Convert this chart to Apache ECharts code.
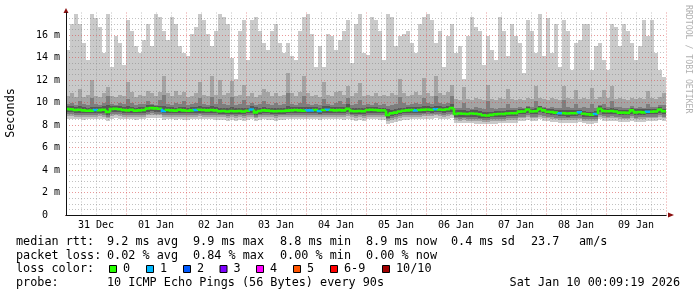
<!DOCTYPE html>
<html><head><meta charset="utf-8">
<script src="https://cdn.jsdelivr.net/npm/echarts@6/dist/echarts.min.js"></script>
<style>html,body{margin:0;padding:0;background:#fff}#c{width:697px;height:297px}</style>
</head><body><div id="c"></div>
<script>
// ---- axis / categories ----
const dayLabels = ['31 Dec','01 Jan','02 Jan','03 Jan','04 Jan','05 Jan','06 Jan','07 Jan','08 Jan','09 Jan'];
const axisStartHour = -24;   // hours relative to 01 Jan 00:00
const axisEndHour = 216;
const binHours = 1.6;        // each smoke bin = 96 minutes
const yMax = 18;             // milliseconds

// ---- smoke (sorted pings per bin, ms) ----
const ping10 = [14.7,17.0,17.9,17.0,15.3,13.8,17.9,17.5,16.7,14.4,17.9,13.2,15.9,15.3,13.3,17.3,16.4,15.0,14.4,15.6,17.0,15.0,17.9,17.6,16.4,15.6,17.6,17.0,15.0,14.4,14.1,16.1,16.7,17.9,17.3,16.1,15.0,16.4,
17.9,17.6,17.0,14.0,12.1,16.4,17.3,13.8,17.3,17.6,16.4,15.3,14.7,16.4,17.0,15.3,14.4,15.3,14.1,13.8,16.4,17.6,17.9,16.1,13.2,15.0,13.2,16.1,15.9,14.7,15.6,16.4,17.3,13.5,17.0,17.9,14.4,
14.2,17.6,17.3,16.4,13.8,17.9,17.6,15.0,15.9,16.1,16.4,15.3,14.4,17.0,17.6,17.9,17.3,15.3,16.4,13.2,15.9,17.0,14.4,15.0,12.1,15.9,17.6,16.7,16.4,13.3,15.9,14.7,13.8,17.6,16.4,14.1,17.0,15.9,
15.3,12.6,17.3,16.4,14.4,17.9,14.1,17.5,14.4,17.0,13.2,17.3,16.4,12.9,15.3,15.6,17.0,17.0,12.9,15.0,15.3,13.8,12.9,17.0,16.7,15.0,17.0,16.4,15.3,13.8,15.0,17.3,15.9,17.3,14.4,12.9,12.3];
const ping9 = [10.6,10.8,10.5,11.2,10.5,10.7,12.0,10.6,10.5,10.8,11.4,10.6,10.5,10.7,10.6,11.8,10.9,10.5,10.7,10.6,11.0,10.8,10.6,10.9,12.4,10.8,10.6,11.0,10.7,10.9,10.5,10.6,10.8,11.8,10.7,10.6,12.4,10.7,
12.0,10.7,10.8,11.9,10.6,10.7,11.6,10.6,10.8,10.5,10.7,11.2,10.9,10.6,10.8,10.6,10.7,12.6,10.8,10.6,10.9,12.4,10.8,10.6,10.7,10.5,11.8,10.7,10.6,10.9,11.0,10.7,11.5,10.6,10.8,11.7,10.6,
10.7,10.6,10.8,10.6,10.7,10.6,10.8,10.7,12.1,10.8,10.6,10.7,10.9,10.7,12.2,10.8,10.6,12.4,10.8,10.7,10.9,11.6,10.3,10.2,11.4,10.3,10.2,10.4,10.3,10.2,11.6,10.3,10.2,10.4,10.3,11.2,10.3,10.2,
10.3,10.2,10.4,10.3,11.5,10.4,10.3,10.2,10.4,10.3,10.2,11.5,10.4,10.3,11.1,10.3,10.4,10.3,11.3,10.3,10.5,11.1,10.4,11.5,10.3,10.4,10.3,10.2,10.4,10.3,10.4,10.3,11.0,10.4,10.3,10.5,10.8];
const ping8 = [9.9,10.0,9.8,10.1,9.9,9.8,10.4,9.9,9.8,10.0,10.6,9.9,9.8,10.0,9.9,10.3,10.0,9.8,9.9,9.9,10.1,9.9,9.8,10.2,10.7,9.9,9.8,10.0,9.9,10.1,9.8,9.9,10.0,10.4,9.9,9.8,10.5,9.9,
10.3,9.9,9.8,10.5,9.8,9.9,10.2,9.8,10.0,9.8,9.9,10.1,9.9,9.8,10.0,9.8,9.9,10.8,9.9,9.8,10.0,10.6,9.9,9.8,9.9,9.8,10.3,9.9,9.8,10.0,10.1,9.9,10.4,9.8,9.9,10.2,9.8,
9.9,9.8,10.0,9.8,9.9,9.7,9.8,9.9,10.5,10.0,9.8,9.9,10.0,9.9,10.4,10.0,9.9,10.6,10.0,9.9,10.0,10.6,9.5,9.5,10.0,9.5,9.4,9.6,9.5,9.4,10.1,9.5,9.4,9.5,9.5,9.9,9.5,9.5,
9.6,9.5,9.7,9.6,10.1,9.7,9.6,9.5,9.6,9.5,9.5,10.2,9.6,9.5,9.9,9.5,9.6,9.5,9.9,9.5,9.8,9.9,9.6,10.1,9.6,9.6,9.5,9.5,9.7,9.5,9.6,9.5,9.9,9.6,9.6,9.8,9.8];
const ping7 = [9.65,9.65,9.6,9.65,9.6,9.55,9.6,9.6,9.6,9.65,9.8,9.65,9.7,9.65,9.6,9.65,9.6,9.55,9.6,9.6,9.75,9.75,9.7,9.7,9.65,9.6,9.6,9.55,9.6,9.6,9.55,9.6,9.6,9.7,9.6,9.6,9.65,9.6,
9.55,9.55,9.5,9.6,9.5,9.55,9.5,9.55,9.65,9.6,9.55,9.6,9.55,9.55,9.5,9.55,9.55,9.65,9.6,9.6,9.6,9.6,9.6,9.6,9.6,9.55,9.65,9.65,9.6,9.6,9.6,9.6,9.9,9.55,9.5,9.55,9.5,
9.6,9.6,9.6,9.55,9.55,9.4,9.35,9.4,9.5,9.55,9.6,9.6,9.6,9.6,9.65,9.65,9.6,9.7,9.65,9.6,9.65,9.9,9.3,9.3,9.3,9.25,9.3,9.3,9.25,9.2,9.15,9.2,9.25,9.25,9.25,9.3,9.3,9.3,
9.45,9.45,9.6,9.45,9.5,9.7,9.55,9.45,9.4,9.35,9.3,9.3,9.3,9.3,9.3,9.35,9.25,9.2,9.2,9.25,9.7,9.5,9.45,9.5,9.45,9.35,9.35,9.35,9.55,9.4,9.4,9.4,9.45,9.45,9.45,9.6,9.45];
const median = [9.42,9.40,9.33,9.35,9.30,9.27,9.28,9.33,9.32,9.36,9.15,9.42,9.44,9.40,9.33,9.30,9.35,9.28,9.30,9.33,9.47,9.50,9.48,9.45,9.25,9.33,9.30,9.28,9.35,9.30,9.27,9.30,9.33,9.36,9.33,9.30,9.33,9.30,
9.22,9.25,9.20,9.24,9.22,9.25,9.20,9.27,9.38,9.12,9.25,9.30,9.28,9.25,9.22,9.25,9.24,9.28,9.30,9.33,9.30,9.28,9.30,9.30,9.33,9.25,9.33,9.36,9.33,9.30,9.32,9.30,9.45,9.25,9.22,9.25,9.22,
9.33,9.35,9.33,9.30,9.30,8.90,9.05,9.10,9.20,9.27,9.30,9.33,9.30,9.33,9.36,9.38,9.36,9.40,9.38,9.36,9.40,9.50,8.98,9.02,9.00,8.98,9.02,9.00,8.95,8.87,8.85,8.90,8.95,8.98,8.98,9.02,9.05,9.05,
9.19,9.20,9.38,9.20,9.22,9.45,9.30,9.18,9.15,9.10,9.05,9.05,9.02,9.05,9.05,9.12,9.00,8.95,8.92,8.98,9.45,9.24,9.22,9.25,9.20,9.10,9.10,9.08,9.30,9.12,9.15,9.12,9.18,9.18,9.20,9.38,9.22];
const ping4 = [9.15,9.15,9.1,9.1,9.05,9.05,9.05,9.1,9.1,9.1,8.9,9.15,9.2,9.15,9.1,9.05,9.1,9.05,9.05,9.1,9.2,9.25,9.2,9.2,9.05,9.1,9.05,9.05,9.1,9.05,9.05,9.05,9.1,9.1,9.1,9.05,9.1,9.05,
9.0,9.0,8.95,9.0,9.0,9.0,8.95,9.05,9.1,8.9,9.0,9.05,9.05,9.0,9.0,9.0,9.0,9.05,9.05,9.1,9.05,9.05,9.05,9.05,9.1,9.0,9.1,9.1,9.1,9.05,9.1,9.05,9.2,9.0,9.0,9.0,9.0,
9.1,9.1,9.1,9.05,9.05,8.65,8.8,8.85,8.95,9.05,9.05,9.1,9.05,9.1,9.1,9.15,9.1,9.15,9.15,9.1,9.15,9.2,8.75,8.75,8.75,8.75,8.75,8.7,8.65,8.6,8.65,8.7,8.7,8.75,8.75,8.8,8.8,8.8,
8.95,8.95,9.1,8.95,8.95,9.15,9.05,8.95,8.9,8.85,8.8,8.8,8.75,8.8,8.8,8.85,8.75,8.7,8.7,8.75,9.15,9.0,8.95,9.0,8.95,8.85,8.85,8.85,9.0,8.85,8.9,8.9,8.95,8.95,8.95,9.1,8.95];
const ping3 = [8.95,8.95,8.9,8.9,8.85,8.9,8.9,8.9,8.95,8.9,8.75,8.95,9.0,8.95,8.9,8.9,8.9,8.85,8.9,8.9,9.0,9.05,9.0,9.0,8.85,8.9,8.9,8.85,8.9,8.85,8.85,8.9,8.9,8.95,8.9,8.9,8.9,8.85,
8.85,8.85,8.8,8.85,8.8,8.85,8.8,8.85,8.9,8.75,8.85,8.9,8.85,8.85,8.8,8.85,8.85,8.9,8.9,8.9,8.9,8.9,8.9,8.9,8.9,8.85,8.9,8.9,8.9,8.9,8.9,8.85,8.95,8.85,8.8,8.85,8.8,
8.9,8.9,8.9,8.85,8.85,8.5,8.6,8.7,8.8,8.85,8.85,8.9,8.9,8.9,8.95,8.95,8.95,9.0,8.95,8.9,8.95,9.0,8.6,8.55,8.6,8.55,8.55,8.5,8.5,8.45,8.45,8.5,8.5,8.55,8.55,8.6,8.6,8.6,
8.75,8.75,8.85,8.75,8.75,8.9,8.8,8.75,8.7,8.65,8.6,8.6,8.6,8.6,8.6,8.65,8.55,8.5,8.5,8.55,8.9,8.8,8.75,8.8,8.75,8.7,8.65,8.65,8.8,8.65,8.7,8.7,8.75,8.75,8.75,8.85,8.75];
const ping2 = [8.8,8.8,8.75,8.75,8.7,8.75,8.75,8.75,8.8,8.75,8.6,8.8,8.85,8.8,8.75,8.75,8.75,8.7,8.75,8.75,8.85,8.9,8.85,8.85,8.7,8.75,8.75,8.7,8.75,8.7,8.7,8.75,8.75,8.8,8.75,8.75,8.75,8.7,
8.7,8.7,8.65,8.7,8.65,8.7,8.65,8.7,8.75,8.6,8.7,8.75,8.7,8.7,8.65,8.7,8.7,8.75,8.75,8.75,8.75,8.75,8.75,8.75,8.75,8.7,8.75,8.75,8.75,8.75,8.75,8.7,8.8,8.7,8.65,8.7,8.65,
8.75,8.75,8.75,8.7,8.7,8.35,8.45,8.55,8.65,8.7,8.7,8.75,8.75,8.75,8.8,8.8,8.8,8.85,8.8,8.75,8.8,8.85,8.45,8.4,8.45,8.4,8.4,8.35,8.35,8.3,8.3,8.35,8.35,8.4,8.4,8.45,8.45,8.45,
8.6,8.6,8.7,8.6,8.6,8.75,8.65,8.6,8.55,8.5,8.45,8.45,8.45,8.45,8.45,8.5,8.4,8.35,8.35,8.4,8.75,8.65,8.6,8.65,8.6,8.55,8.5,8.5,8.65,8.5,8.55,8.55,8.6,8.6,8.6,8.7,8.6];
const ping1 = [8.55,8.55,8.5,8.5,8.45,8.5,8.5,8.5,8.55,8.5,8.35,8.55,8.6,8.55,8.5,8.5,8.5,8.45,8.5,8.5,8.6,8.65,8.6,8.6,8.45,8.5,8.5,8.45,8.5,8.45,8.45,8.5,8.5,8.55,8.5,8.5,8.5,8.45,
8.45,8.45,8.4,8.45,8.4,8.45,8.4,8.45,8.5,8.35,8.45,8.5,8.45,8.45,8.4,8.45,8.45,8.5,8.5,8.5,8.5,8.5,8.5,8.5,8.5,8.45,8.5,8.5,8.5,8.5,8.5,8.45,8.55,8.45,8.4,8.45,8.4,
8.5,8.5,8.5,8.45,8.45,8.1,8.2,8.3,8.4,8.45,8.45,8.5,8.5,8.5,8.55,8.55,8.55,8.6,8.55,8.5,8.55,8.6,8.2,8.15,8.2,8.15,8.15,8.1,8.1,8.05,8.05,8.1,8.1,8.15,8.15,8.2,8.2,8.2,
8.35,8.35,8.45,8.35,8.35,8.5,8.4,8.35,8.3,8.25,8.2,8.2,8.2,8.2,8.2,8.25,8.15,8.1,8.1,8.15,8.5,8.4,8.35,8.4,8.35,8.3,8.25,8.25,8.4,8.25,8.3,8.3,8.35,8.35,8.35,8.45,8.35];
// lost pings (of 10) per bin
const loss = [0,0,0,0,0,0,0,1,0,0,0,0,0,0,0,0,0,0,0,0,0,0,0,0,1,0,0,0,0,0,0,0,1,0,0,0,0,0,
0,0,0,0,0,0,0,0,1,0,0,0,0,0,0,0,0,0,0,0,0,0,1,1,0,1,0,1,0,0,0,0,0,0,0,0,0,
0,0,0,0,0,0,0,0,0,0,0,0,1,0,0,0,0,1,0,0,0,0,0,0,0,0,0,0,0,0,0,0,0,0,0,0,0,0,
0,0,0,0,0,0,0,0,0,0,1,0,0,0,0,1,0,0,0,1,0,0,0,0,0,0,0,0,0,0,0,0,1,0,0,0,0];

// ---- legend text ----
const lossLegend = [['0','#26ff00'],['1','#00b8ff'],['2','#0059ff'],['3','#7e00ff'],['4','#ff00ff'],['5','#ff5500'],['6-9','#ff0000'],['10/10','#a00000']];
const rttStats = ['median rtt:', '9.2 ms avg', '9.9 ms max', '8.8 ms min', '8.9 ms now', '0.4 ms sd', '23.7', 'am/s'];
const lossStats = ['packet loss:', '0.02 % avg', '0.84 % max', '0.00 % min', '0.00 % now'];
const probeText = ['probe:', '10 ICMP Echo Pings (56 Bytes) every 90s'];
const stampText = 'Sat Jan 10 00:09:19 2026';

function lossColor(l) {
  if (l >= 10) return '#a00000';
  if (l >= 6) return '#ff0000';
  return lossLegend[l][1];
}

const binStart = median.map((_, i) => axisStartHour + i * binHours);
const smokeData = median.map((_, i) => [binStart[i], ping1[i], ping2[i], ping3[i], ping4[i], ping7[i], ping8[i], ping9[i], ping10[i]]);
const medianData = median.map((m, i) => [binStart[i], m, i ? median[i - 1] : m, loss[i]]);
const smokeColors = ['#cacaca', '#a4a4a4', '#7e7e7e', '#585858'];

function renderSmoke(params, api) {
  const t = api.value(0);
  const xa = Math.round(api.coord([t, 0])[0]);
  const xb = Math.round(api.coord([t + binHours, 0])[0]);
  const children = [];
  for (let k = 0; k < 4; k++) {
    const lo = api.value(1 + k), hi = api.value(8 - k);
    const yHi = Math.round(api.coord([t, hi])[1]);
    const yLo = Math.round(api.coord([t, lo])[1]);
    children.push({ type: 'rect', shape: { x: xa, y: yHi, width: xb - xa, height: Math.max(1, yLo - yHi) }, style: { fill: smokeColors[k] } });
  }
  return { type: 'group', children };
}
function renderMedian(params, api) {
  const t = api.value(0);
  const a = api.coord([t, api.value(2)]);
  const b = api.coord([t, api.value(1)]);
  const c = api.coord([t + binHours, api.value(1)]);
  return { type: 'polyline', shape: { points: [a, b, c] }, style: { stroke: lossColor(api.value(3)), lineWidth: 2.6, fill: null } };
}

const MONO = '"DejaVu Sans Mono", monospace';
const LEG = '11.8px ' + MONO;
const graphics = [];
function txt(x, y, s, extra) {
  graphics.push(Object.assign({ type: 'text', x, y, silent: true, style: { text: s, font: LEG, fill: '#000', align: 'left', verticalAlign: 'middle' } }, extra || {}));
}
const statCols = [16, 107, 193, 280, 366, 451, 531, 579];
rttStats.forEach((s, i) => txt(statCols[i], 241.5, s));
lossStats.forEach((s, i) => txt(statCols[i], 255.5, s));
txt(16, 269, 'loss color:');
const boxX = [109, 146, 183, 219.5, 256, 293, 330, 382];
lossLegend.forEach((d, i) => {
  graphics.push({ type: 'rect', silent: true, shape: { x: boxX[i] + 0.5, y: 265.5, width: 7, height: 7 }, style: { fill: d[1], stroke: '#000', lineWidth: 1 } });
  txt(boxX[i] + 14, 269, d[0]);
});
txt(16, 283, probeText[0]);
txt(107, 283, probeText[1]);
graphics.push({ type: 'text', x: 680, y: 283, silent: true, style: { text: stampText, font: LEG, fill: '#000', align: 'right', verticalAlign: 'middle' } });
graphics.push({ type: 'text', x: 10.5, y: 113, rotation: Math.PI / 2, silent: true, style: { text: 'Seconds', font: LEG, fill: '#000', align: 'center', verticalAlign: 'middle' } });
graphics.push({ type: 'text', x: 688, y: 5, rotation: -Math.PI / 2, silent: true, style: { text: 'RRDTOOL / TOBI OETIKER', font: '8.2px ' + MONO, fill: '#b0b0b0', align: 'left', verticalAlign: 'middle' } });

const MAJOR = 'rgba(215,70,70,0.55)';
const MINOR = 'rgba(120,120,120,0.45)';
const DOT = [1, 2];
const chart = echarts.init(document.getElementById('c'), null, { renderer: 'canvas' });
chart.setOption({
  animation: false,
  backgroundColor: '#ffffff',
  grid: { left: 66, top: 12.5, width: 600, height: 202.5, containLabel: false, outerBoundsMode: 'none' },
  xAxis: [{
    type: 'value', min: axisStartHour, max: axisEndHour, interval: 24, z: 10, position: 'bottom',
    axisLine: { show: true, onZero: false, lineStyle: { color: '#111', width: 1 } },
    axisTick: { show: false }, axisLabel: { show: false },
    splitLine: { show: true, showMinLine: false, showMaxLine: true, lineStyle: { color: MAJOR, type: DOT, width: 1 } },
    minorTick: { show: false, splitNumber: 4 },
    minorSplitLine: { show: true, lineStyle: { color: MINOR, type: DOT, width: 1 } }
  }, {
    type: 'value', min: axisStartHour, max: axisEndHour, interval: 12, z: 9, position: 'bottom',
    axisLine: { show: true, onZero: false, symbol: ['none', 'triangle'], symbolSize: [5, 6], symbolOffset: [0, 5], lineStyle: { color: '#8b1010', width: 1 } },
    axisTick: { show: false }, splitLine: { show: false },
    axisLabel: {
      show: true, interval: 0, margin: 5, color: '#000', fontFamily: MONO, fontSize: 10, hideOverlap: false,
      formatter: v => { const h = v - axisStartHour; return (h % 24 === 12) ? dayLabels[(h - 12) / 24] : ''; }
    }
  }],
  yAxis: [{
    type: 'value', min: 0, max: yMax, interval: 2, z: 10, position: 'left',
    axisLine: { show: true, onZero: false, lineStyle: { color: '#111', width: 1 } },
    axisTick: { show: false },
    axisLabel: {
      show: true, margin: 6, color: '#000', fontFamily: MONO, fontSize: 10, showMaxLabel: false,
      formatter: v => v === 0 ? '0  ' : (v >= yMax ? '' : v + ' m')
    },
    splitLine: { show: true, showMinLine: false, showMaxLine: false, lineStyle: { color: MAJOR, type: DOT, width: 1 } },
    minorTick: { show: false, splitNumber: 4 },
    minorSplitLine: { show: true, lineStyle: { color: MINOR, type: DOT, width: 1 } }
  }, {
    type: 'value', min: 0, max: yMax, interval: 2, z: 9, position: 'left',
    axisLine: { show: true, onZero: false, symbol: ['none', 'triangle'], symbolSize: [5, 5], symbolOffset: [0, 2], lineStyle: { color: '#8b1010', width: 1 } },
    axisTick: { show: false }, axisLabel: { show: false }, splitLine: { show: false }
  }],
  series: [
    { type: 'custom', name: 'smoke', xAxisIndex: 0, yAxisIndex: 0, data: smokeData, renderItem: renderSmoke, z: 2, silent: true, encode: { x: 0, y: 1 } },
    { type: 'custom', name: 'median', xAxisIndex: 0, yAxisIndex: 0, data: medianData, renderItem: renderMedian, z: 3, silent: true, encode: { x: 0, y: 1 } }
  ],
  graphic: graphics
});
</script>
</body></html>
